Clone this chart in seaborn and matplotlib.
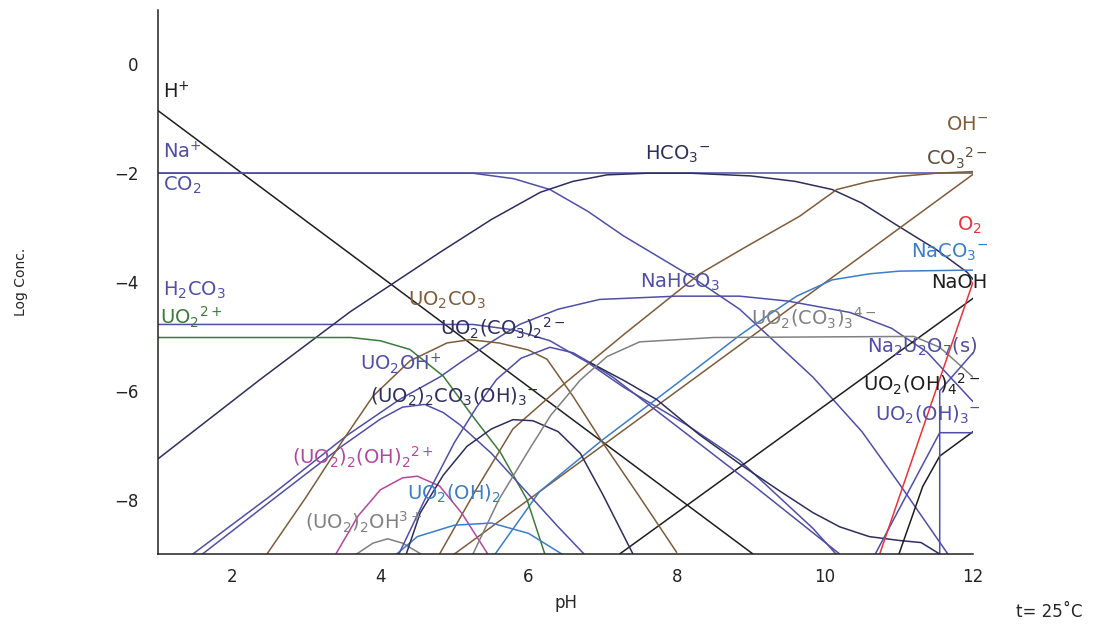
import matplotlib
matplotlib.use("Agg")
import matplotlib.pyplot as plt
import seaborn as sns
import pandas as pd

# --- dati (pH, log concentrazione) ---
h_ph, h_log = [1.0, 9.03], [-0.85, -9.0]
na_ph, na_log = [1.0, 12.0], [-2.0, -2.0]
co2_ph = [1.0, 5.25, 5.8, 6.29, 6.8, 7.28, 8.14, 8.85, 9.84, 10.5, 11.0, 11.66]
co2_log = [-2.0, -2.0, -2.1, -2.3, -2.7, -3.15, -3.85, -4.5, -5.75, -6.75, -7.7, -9.0]
h2co3_ph = [1.0, 5.25, 5.8, 6.29, 6.8, 7.28, 8.14, 8.85, 9.84, 10.15]
h2co3_log = [-4.78, -4.78, -4.88, -5.08, -5.48, -5.93, -6.63, -7.28, -8.53, -9.0]
hco3_ph = [1.0, 2.38, 3.59, 4.81, 5.5, 6.16, 6.6, 7.06, 7.6, 8.2, 9.0, 9.6, 10.1, 10.5, 11.0, 11.5, 11.92, 12.0]
hco3_log = [-7.25, -5.79, -4.55, -3.45, -2.85, -2.35, -2.15, -2.03, -2.0, -2.0, -2.05, -2.15, -2.3, -2.55, -2.98, -3.4, -3.82, -3.95]
co3_ph = [4.8, 5.3, 5.79, 6.5, 7.3, 8.31, 8.9, 9.66, 10.16, 10.6, 11.0, 11.5, 12.0]
co3_log = [-9.0, -7.8, -6.7, -5.85, -4.95, -3.85, -3.38, -2.79, -2.3, -2.15, -2.06, -2.0, -1.97]
oh_ph, oh_log = [5.0, 12.0], [-9.0, -2.02]
naco3_ph = [5.55, 6.15, 7.0, 8.0, 8.85, 9.3, 9.62, 10.1, 10.6, 11.0, 12.0]
naco3_log = [-9.0, -7.85, -6.9, -5.87, -4.98, -4.55, -4.26, -3.96, -3.85, -3.8, -3.78]
nahco3_ph = [1.47, 2.5, 3.55, 4.27, 4.81, 5.08, 5.5, 5.88, 6.4, 6.96, 8.0, 8.85, 9.5, 10.34, 10.9, 11.38, 12.0]
nahco3_log = [-9.0, -7.95, -6.82, -6.15, -5.74, -5.48, -5.1, -4.78, -4.5, -4.32, -4.26, -4.26, -4.35, -4.56, -4.85, -5.29, -6.2]
naoh_ph, naoh_log = [7.23, 12.0], [-9.0, -4.3]
o2_ph, o2_log = [10.74, 12.0], [-9.0, -4.0]
uo2_ph = [1.0, 3.6, 4.0, 4.4, 4.85, 5.21, 5.62, 5.98, 6.22]
uo2_log = [-5.02, -5.02, -5.08, -5.24, -5.73, -6.4, -7.13, -8.0, -9.0]
uo2oh_ph = [1.6, 2.5, 3.5, 4.0, 4.3, 4.6, 4.85, 5.07, 5.5, 6.0, 6.4, 6.75]
uo2oh_log = [-9.0, -8.05, -7.0, -6.52, -6.3, -6.25, -6.4, -6.62, -7.15, -7.9, -8.5, -9.0]
uo2co3_ph = [2.47, 3.0, 3.5, 3.9, 4.4, 4.9, 5.21, 5.6, 6.0, 6.25, 6.6, 7.0, 7.5, 8.0]
uo2co3_log = [-9.0, -7.95, -6.9, -6.1, -5.45, -5.12, -5.06, -5.12, -5.25, -5.42, -6.1, -6.95, -7.95, -8.97]
dioh2_ph = [3.4, 3.7, 4.0, 4.3, 4.5, 4.8, 5.1, 5.45]
dioh2_log = [-9.0, -8.3, -7.82, -7.6, -7.57, -7.75, -8.25, -9.0]
dioh_ph = [3.68, 3.9, 4.1, 4.3, 4.55]
dioh_log = [-9.0, -8.8, -8.72, -8.8, -9.0]
uo2oh2_ph = [4.22, 4.5, 5.0, 5.5, 6.0, 6.45]
uo2oh2_log = [-9.0, -8.68, -8.47, -8.43, -8.62, -9.0]
dico3_ph = [4.25, 4.6, 5.0, 5.3, 5.57, 5.9, 6.29, 6.6, 6.83, 7.14, 8.0, 9.0, 10.2]
dico3_log = [-9.0, -8.0, -6.95, -6.3, -5.79, -5.4, -5.2, -5.3, -5.48, -5.75, -6.65, -7.7, -9.0]
tail_ph = [6.83, 7.3, 7.73, 8.3, 8.9, 9.4, 9.84, 10.2, 10.6, 11.0, 11.3, 11.55]
tail_log = [-5.48, -5.82, -6.16, -6.8, -7.39, -7.85, -8.24, -8.5, -8.68, -8.75, -8.79, -9.0]
dimer_ph = [4.35, 4.54, 4.85, 5.17, 5.5, 5.79, 6.06, 6.4, 6.7, 7.0, 7.41]
dimer_log = [-9.0, -8.24, -7.55, -7.02, -6.7, -6.53, -6.55, -6.75, -7.15, -7.9, -9.0]
trico3_ph = [5.25, 5.6, 6.0, 6.3, 6.7, 7.06, 7.5, 8.5, 11.2, 11.55, 11.8, 12.0]
trico3_log = [-9.0, -8.0, -7.1, -6.45, -5.8, -5.37, -5.1, -5.02, -5.0, -5.2, -5.5, -5.75]
uo2oh4_ph, uo2oh4_log = [11.0, 11.32, 11.55, 12.0], [-9.0, -7.76, -7.2, -6.75]
uo2oh3_ph, uo2oh3_log = [10.68, 11.55, 12.0], [-9.0, -6.77, -6.77]
na2u2o7_ph, na2u2o7_log = [11.55, 11.55, 12.0], [-9.0, -6.0, -5.3]

# colori
NERO = "#1e1e1e"
NAVY = "#2e2e5a"
VIOLA = "#4f4fa3"
MARRONE = "#7d5c3c"
BLU = "#3d7cc6"
VERDE = "#3c7a3a"
MAGENTA = "#b2489e"
GRIGIO = "#808080"
ROSSO = "#e8313c"

serie = [
    (h_ph, h_log, NERO), (na_ph, na_log, VIOLA), (co2_ph, co2_log, VIOLA),
    (h2co3_ph, h2co3_log, VIOLA), (hco3_ph, hco3_log, NAVY), (co3_ph, co3_log, MARRONE),
    (oh_ph, oh_log, MARRONE), (naco3_ph, naco3_log, BLU), (nahco3_ph, nahco3_log, VIOLA),
    (naoh_ph, naoh_log, NERO), (uo2_ph, uo2_log, VERDE), (uo2oh_ph, uo2oh_log, VIOLA),
    (uo2co3_ph, uo2co3_log, MARRONE), (dioh2_ph, dioh2_log, MAGENTA), (dioh_ph, dioh_log, GRIGIO),
    (uo2oh2_ph, uo2oh2_log, BLU), (dico3_ph, dico3_log, VIOLA), (tail_ph, tail_log, NAVY),
    (dimer_ph, dimer_log, NAVY), (trico3_ph, trico3_log, GRIGIO), (uo2oh4_ph, uo2oh4_log, NERO),
    (uo2oh3_ph, uo2oh3_log, VIOLA), (na2u2o7_ph, na2u2o7_log, VIOLA), (o2_ph, o2_log, ROSSO),
]

sns.set_theme(style="white")
plt.rcParams["font.family"] = ["DejaVu Sans"]
plt.rcParams["mathtext.default"] = "regular"

fig = plt.figure(figsize=(10.99, 6.30), dpi=100)
ax = fig.add_axes([0.1438, 0.1206, 0.7416, 0.8635])

for x, y, c in serie:
    df = pd.DataFrame({"pH": x, "logC": y})
    sns.lineplot(data=df, x="pH", y="logC", sort=False, estimator=None,
                 color=c, linewidth=1.1, ax=ax)

ax.set_xlim(1, 12)
ax.set_ylim(-9, 1)
ax.set_xticks(range(1, 13))
ax.set_xticklabels([str(v) if v % 2 == 0 else "" for v in range(1, 13)])
ax.set_yticks(range(-9, 2))
ax.set_yticklabels([("\u2212" + str(-v) if v < 0 else str(v)) if v % 2 == 0 else "" for v in range(-9, 2)])
ax.tick_params(direction="in", length=8, width=1, colors="#222222", labelsize=12)
ax.tick_params(axis="x", pad=10)
ax.tick_params(axis="y", pad=14)
sns.despine(ax=ax)
for s in ["left", "bottom"]:
    ax.spines[s].set_color("#222222")
    ax.spines[s].set_linewidth(1.1)
ax.set_xlabel("pH", fontsize=12, labelpad=6)
ax.set_ylabel("Log Conc.", fontsize=10, labelpad=62)
fig.text(0.985, 0.015, "t= 25\u02daC", ha="right", va="bottom", fontsize=12)

# etichette delle specie
fs = 14
etichette = [
    (1.07, -0.5, r"H$^{+}$", NERO, "left"),
    (1.07, -1.6, r"Na$^{+}$", VIOLA, "left"),
    (1.07, -2.22, r"CO$_2$", VIOLA, "left"),
    (1.07, -4.15, r"H$_2$CO$_3$", VIOLA, "left"),
    (1.03, -4.65, r"UO$_2$$^{2+}$", VERDE, "left"),
    (4.37, -4.33, r"UO$_2$CO$_3$", MARRONE, "left"),
    (4.8, -4.85, r"UO$_2$(CO$_3$)$_2$$^{2-}$", NAVY, "left"),
    (3.73, -5.5, r"UO$_2$OH$^{+}$", VIOLA, "left"),
    (3.86, -6.12, r"(UO$_2$)$_2$CO$_3$(OH)$_3$$^{-}$", NAVY, "left"),
    (2.81, -7.22, r"(UO$_2$)$_2$(OH)$_2$$^{2+}$", MAGENTA, "left"),
    (4.36, -7.9, r"UO$_2$(OH)$_2$", BLU, "left"),
    (2.98, -8.42, r"(UO$_2$)$_2$OH$^{3+}$", GRIGIO, "left"),
    (7.57, -1.65, r"HCO$_3$$^{-}$", NAVY, "left"),
    (7.5, -4.0, r"NaHCO$_3$", VIOLA, "left"),
    (9.0, -4.66, r"UO$_2$(CO$_3$)$_3$$^{4-}$", GRIGIO, "left"),
    (12.2, -1.1, r"OH$^{-}$", MARRONE, "right"),
    (12.2, -1.72, r"CO$_3$$^{2-}$", "#5e4a38", "right"),
    (12.12, -2.95, r"O$_2$", ROSSO, "right"),
    (12.2, -3.45, r"NaCO$_3$$^{-}$", BLU, "right"),
    (12.2, -4.0, r"NaOH", NERO, "right"),
    (12.05, -5.2, r"Na$_2$U$_2$O$_7$(s)", VIOLA, "right"),
    (12.1, -5.88, r"UO$_2$(OH)$_4$$^{2-}$", NERO, "right"),
    (12.1, -6.45, r"UO$_2$(OH)$_3$$^{-}$", VIOLA, "right"),
]
for x, y, t, c, ha in etichette:
    ax.text(x, y, t, color=c, ha=ha, va="center", fontsize=fs, clip_on=False)

fig.savefig("out.png", dpi=100)
